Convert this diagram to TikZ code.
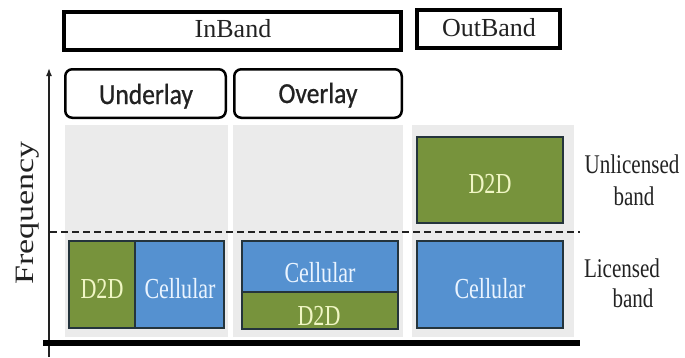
\documentclass[tikz,border=0pt]{standalone}
\usepackage{fontspec}
\usepackage{graphicx}
\usetikzlibrary{arrows.meta}
\newfontfamily\headfont{Liberation Serif}
\newfontfamily\modefont[FakeStretch=0.88,FakeBold=0.8]{Carlito}
\newfontfamily\cellfont[FakeStretch=0.76]{Liberation Serif}
\newfontfamily\bandfont[FakeStretch=0.78]{Liberation Serif}

\definecolor{panelgray}{HTML}{EBEBEB}
\definecolor{dtwod}{HTML}{77933C}
\definecolor{cellblue}{HTML}{5591D0}
\definecolor{edgedark}{HTML}{24343C}
\definecolor{dtwodtext}{HTML}{F0F6C4}
\definecolor{celltext}{HTML}{EAF4FF}
\definecolor{inktext}{HTML}{222222}

\tikzset{
  headbox/.style={draw=black, line width=4pt},
  modebox/.style={draw=black, line width=2.5pt, rounded corners=7pt},
  panel/.style={fill=panelgray, draw=none},
  d2dbox/.style={fill=dtwod, draw=edgedark, line width=1.2pt},
  cellbox/.style={fill=cellblue, draw=edgedark, line width=1.2pt},
  headtext/.style={anchor=base, inner sep=0pt, text=inktext, font=\headfont\fontsize{26}{30}\selectfont},
  modetext/.style={anchor=base, inner sep=0pt, text=inktext, font=\modefont\fontsize{29}{33}\selectfont},
  d2dtext/.style={anchor=base, inner sep=0pt, text=dtwodtext, font=\cellfont\fontsize{29}{34}\selectfont},
  celltxt/.style={anchor=base, inner sep=0pt, text=celltext, font=\cellfont\fontsize{29}{34}\selectfont},
  bandtext/.style={anchor=base, inner sep=0pt, text=inktext, font=\bandfont\fontsize{27}{32}\selectfont},
}

\begin{document}
\begin{tikzpicture}[x=1pt, y=-1pt]
\useasboundingbox (0,0) rectangle (685,357);

% spectrum columns
\path[panel] (65,125) rectangle (228,337);
\path[panel] (233,125) rectangle (403,337);
\path[panel] (412,125) rectangle (574,337);

% allocations: underlay
\path[d2dbox] (69,241) rectangle (135,328);
\path[cellbox] (135,241) rectangle (224,328);
% allocations: overlay
\path[cellbox] (242,241) rectangle (398,292);
\path[d2dbox] (242,292) rectangle (398,329);
% allocations: outband
\path[d2dbox] (417,137) rectangle (563,223);
\path[cellbox] (417,241) rectangle (563,328);

\node[d2dtext] (uD) at (102,298) {D2D};
\node[celltxt] (uC) at (180,298) {Cellular};
\node[celltxt] (oC) at (320,282) {Cellular};
\node[d2dtext] (oD) at (319,325) {D2D};
\node[d2dtext] (obD) at (490,193) {D2D};
\node[celltxt] (obC) at (490,298) {Cellular};

% licensed / unlicensed boundary
\coordinate (dashL) at (50,232);
\coordinate (dashR) at (580,232);
\draw[color=inktext, line width=2.5pt, dash pattern=on 7pt off 4pt] (dashL) -- (dashR);

% frequency axis and base line
\coordinate (axisbot) at (49,357);
\coordinate (axistop) at (49,68);
\draw[line width=1.5pt, color=inktext, -{Latex[length=8pt,width=6pt]}] (axisbot) -- (axistop);
\coordinate (baseL) at (43,343);
\coordinate (baseR) at (580,343);
\draw[line width=6pt, black] (baseL) -- (baseR);

\node[anchor=base, inner sep=0pt, rotate=90, text=inktext, font=\headfont\fontsize{34}{40}\selectfont]
  (freq) at (33,213) {\scalebox{1}[0.78]{Frequency}};

% band headers
\draw[headbox] (64,12) rectangle (401,50);
\node[headtext] (inband) at (233,37) {InBand};
\draw[headbox] (417,10) rectangle (560,48);
\node[headtext] (outband) at (489,36) {OutBand};

\draw[modebox] (65.25,69.25) rectangle (225.75,117.75);
\node[modetext] (underlay) at (146,104) {Underlay};
\draw[modebox] (234.25,69.25) rectangle (401.75,117.75);
\node[modetext] (overlay) at (318,103) {Overlay};

% band names
\node[bandtext] (unlic) at (632,173) {Unlicensed};
\node[bandtext] (unlicb) at (634,205) {band};
\node[bandtext] (lic) at (622,277) {Licensed};
\node[bandtext] (licb) at (633,307) {band};
\end{tikzpicture}
\end{document}
